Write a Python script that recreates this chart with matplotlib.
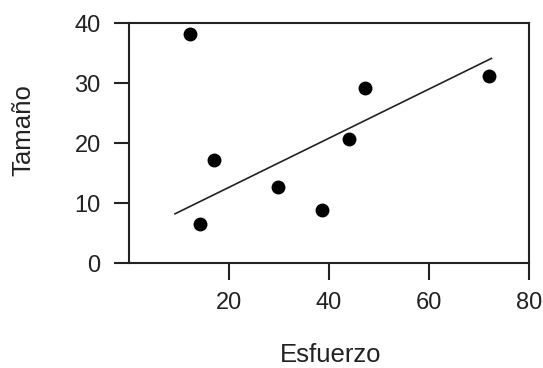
import matplotlib
matplotlib.use("Agg")
import matplotlib.pyplot as plt

# Data
esfuerzo = [12.3, 17.0, 14.3, 29.8, 38.6, 44.1, 47.3, 72.0]
tamano = [38.1, 17.2, 6.5, 12.6, 8.8, 20.6, 29.2, 31.1]
fit_x = [9.3, 72.5]
fit_y = [8.2, 34.1]
xticks = [20, 40, 60, 80]
yticks = [0, 10, 20, 30, 40]

plt.rcParams['font.family'] = ['Liberation Sans', 'DejaVu Sans']

W, H = 543, 368
fig = plt.figure(figsize=(W / 100, H / 100), dpi=100)
ax = fig.add_axes([128.5 / W, (H - 263) / H, (529 - 128.5) / W, (263 - 23) / H])

ax.scatter(esfuerzo, tamano, s=100, color='black', zorder=3, linewidths=0)
ax.plot(fit_x, fit_y, color='#222222', lw=1.2)

ax.set_xlim(0, 80)
ax.set_ylim(0, 40)
ax.set_xticks(xticks)
ax.set_yticks(yticks)
ax.tick_params(axis='x', length=12, width=1.5, pad=9, labelsize=17, colors='#222222')
ax.tick_params(axis='y', length=11, width=1.5, pad=9, labelsize=17, colors='#222222')
for s in ax.spines.values():
    s.set_linewidth(1.5)
    s.set_color('#222222')

fig.text(330.5 / W, 1 - 355 / H, 'Esfuerzo', ha='center', va='center', fontsize=18.5, color='#222222')
fig.text(23 / W, 1 - 130 / H, 'Tamaño', ha='center', va='center', rotation=90, fontsize=18.5, color='#222222')

fig.savefig('out.png', dpi=100)
